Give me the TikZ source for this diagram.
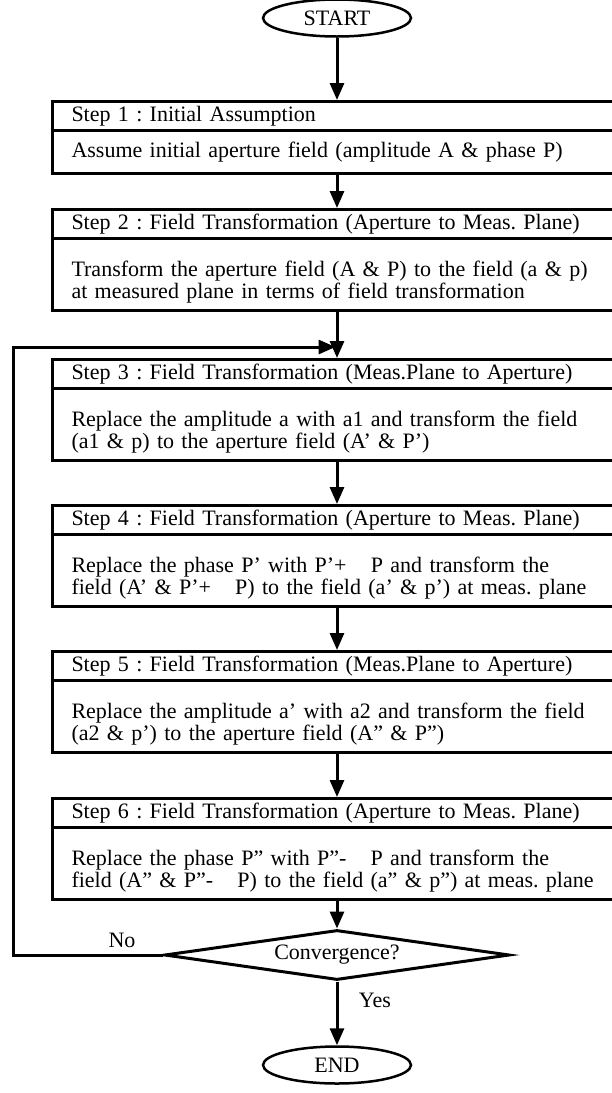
\documentclass[tikz,border=0pt]{standalone}
\usepackage{fontspec}
\setmainfont{Liberation Serif}
\usetikzlibrary{arrows.meta,shapes.geometric}
\frenchspacing
\newcommand{\topstrut}{\rule{0pt}{31pt}}
\begin{document}
\begin{tikzpicture}[x=1pt,y=-1pt,
  every node/.style={font=\fontsize{22}{22}\selectfont},
  box/.style={draw,line width=3pt,anchor=north west,minimum width=572pt,
    text width=540pt,inner xsep=19pt,inner ysep=0pt,align=left},
  ttl/.style={box,minimum height=29pt},
  bdy1/.style={box,minimum height=43pt},
  bdy2/.style={box,minimum height=72pt},
  term/.style={draw,ellipse,line width=2.5pt,minimum width=148pt,minimum height=37pt,inner sep=0pt},
  dec/.style={draw,diamond,line width=3pt,minimum width=345pt,minimum height=50pt,inner sep=0pt,aspect=6.9},
  arr/.style={line width=3pt,-{Triangle[length=17pt,width=14pt]}},
  lbl/.style={inner sep=0pt}
]
\useasboundingbox (0,0) rectangle (611,1093);

\node[term] (start) at (337,18) {START};

\node[ttl] (s1t) at (51,100) {Step 1 : Initial Assumption};
\node[bdy1] (s1b) at (51,129) {Assume initial aperture field (amplitude A \& phase P)};

\node[ttl] (s2t) at (51,208) {Step 2 : Field Transformation (Aperture to Meas. Plane)};
\node[bdy2] (s2b) at (51,237) {\topstrut Transform the aperture field (A \& P) to the field (a \& p)\\at measured plane in terms of field transformation};

\node[ttl] (s3t) at (51,358) {Step 3 : Field Transformation (Meas.Plane to Aperture)};
\node[bdy2] (s3b) at (51,387) {\topstrut Replace the amplitude a with a1 and transform the field\\(a1 \& p) to the aperture field (A’ \& P’)};

\node[ttl] (s4t) at (51,504) {Step 4 : Field Transformation (Aperture to Meas. Plane)};
\node[bdy2] (s4b) at (51,533) {\topstrut Replace the phase P’ with P’+\hspace{1.1em}P and transform the\\field (A’ \& P’+\hspace{1.1em}P) to the field (a’ \& p’) at meas. plane};

\node[ttl] (s5t) at (51,650) {Step 5 : Field Transformation (Meas.Plane to Aperture)};
\node[bdy2] (s5b) at (51,679) {\topstrut Replace the amplitude a’ with a2 and transform the field\\(a2 \& p’) to the aperture field (A” \& P”)};

\node[ttl] (s6t) at (51,797) {Step 6 : Field Transformation (Aperture to Meas. Plane)};
\node[bdy2] (s6b) at (51,826) {\topstrut Replace the phase P” with P”-\hspace{1.1em}P and transform the\\field (A” \& P”-\hspace{1.1em}P) to the field (a” \& p”) at meas. plane};

\node[dec] (conv) at (337,955) {Convergence?};
\node[term] (end) at (337,1065) {END};

\coordinate (j) at (337,347);
\coordinate (c1) at (13,955);
\coordinate (c2) at (13,347);

\draw[arr] (start.south) -- (start.south |- s1t.north);
\draw[arr] (start.south |- s1b.south) -- (start.south |- s2t.north);
\draw[arr] (start.south |- s2b.south) -- (start.south |- s3t.north);
\draw[arr] (start.south |- s3b.south) -- (start.south |- s4t.north);
\draw[arr] (start.south |- s4b.south) -- (start.south |- s5t.north);
\draw[arr] (start.south |- s5b.south) -- (start.south |- s6t.north);
\draw[arr] (start.south |- s6b.south) -- (conv.north);
\draw[arr] (conv.south) -- (end.north);
\draw[arr,line join=miter] (conv.west) -- (c1) -- (c2) -- ([xshift=-1.5pt]j);

\node[lbl] (no) at (122,940) {No};
\node[lbl] (yes) at (375,1000) {Yes};
\end{tikzpicture}
\end{document}
